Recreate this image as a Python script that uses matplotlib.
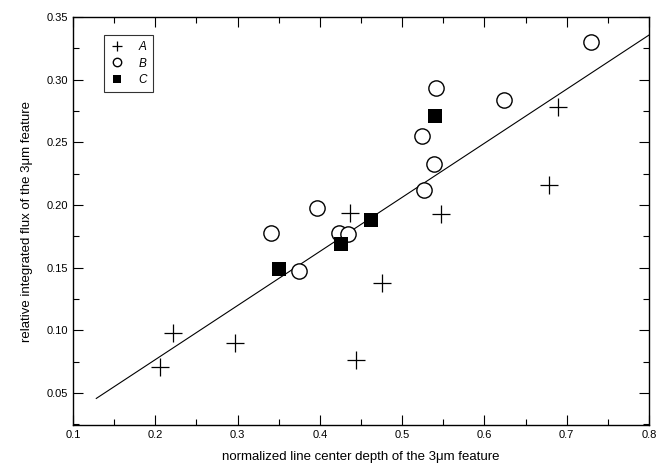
import matplotlib
matplotlib.use("Agg")
import matplotlib.pyplot as plt
import numpy as np
from matplotlib.ticker import MultipleLocator, FormatStrFormatter

plt.rcParams['font.family'] = ['Liberation Sans', 'DejaVu Sans']

# Series A (plus)
a_x = [0.206, 0.221, 0.297, 0.437, 0.4435, 0.476, 0.547, 0.679, 0.690]
a_y = [0.071, 0.0976, 0.0896, 0.194, 0.0763, 0.138, 0.1925, 0.216, 0.278]
# Series B (open circles)
b_x = [0.341, 0.375, 0.397, 0.423, 0.434, 0.524, 0.526, 0.539, 0.541, 0.624, 0.730]
b_y = [0.178, 0.1475, 0.198, 0.178, 0.177, 0.255, 0.212, 0.233, 0.293, 0.284, 0.330]
# Series C (filled squares)
c_x = [0.350, 0.426, 0.462, 0.540]
c_y = [0.1486, 0.169, 0.188, 0.271]
# Fit line endpoints
line_x = [0.1283, 0.80]
line_y = [0.0457, 0.3356]

fig = plt.figure(figsize=(6.6, 4.66), dpi=100)
ax = fig.add_axes([73/660, 41/466, 576/660, 408/466])

ax.plot(line_x, line_y, color='black', lw=0.8, zorder=1)
ax.plot(a_x, a_y, linestyle='none', marker='+', ms=13, mew=0.9, color='black', label='A', zorder=3)
ax.plot(b_x, b_y, linestyle='none', marker='o', ms=11, mew=1.0, mfc='white', mec='black', label='B', zorder=2)
ax.plot(c_x, c_y, linestyle='none', marker='s', ms=10.5, mew=0, color='black', label='C', zorder=3)

ax.set_xlim(0.1, 0.8)
ax.set_ylim(0.0245, 0.35)
ax.xaxis.set_major_locator(MultipleLocator(0.1))
ax.xaxis.set_minor_locator(MultipleLocator(0.05))
ax.yaxis.set_major_locator(MultipleLocator(0.05))
ax.yaxis.set_minor_locator(MultipleLocator(0.025))
ax.xaxis.set_major_formatter(FormatStrFormatter('%.1f'))
ax.yaxis.set_major_formatter(FormatStrFormatter('%.2f'))
ax.tick_params(which='both', direction='in', top=True, right=True, labelsize=8, width=0.8)
ax.tick_params(which='major', length=7)
ax.tick_params(which='minor', length=4)
for s in ax.spines.values():
    s.set_linewidth(1.0)

ax.set_xlabel('normalized line center depth of the 3\u03bcm feature', fontsize=9.5, labelpad=8)
ax.set_ylabel('relative integrated flux of the 3\u03bcm feature', fontsize=9.5, labelpad=10)

leg = ax.legend(loc='upper left', bbox_to_anchor=(31/576, 1 - 18/408), frameon=True, fancybox=False,
                edgecolor='black', fontsize=8.5, markerscale=0.55, handlelength=1.2,
                handletextpad=1.2, borderpad=0.5, labelspacing=0.4, borderaxespad=0)
leg.get_frame().set_linewidth(0.8)
for t in leg.get_texts():
    t.set_fontstyle('italic')

fig.savefig('out.png', dpi=100)
